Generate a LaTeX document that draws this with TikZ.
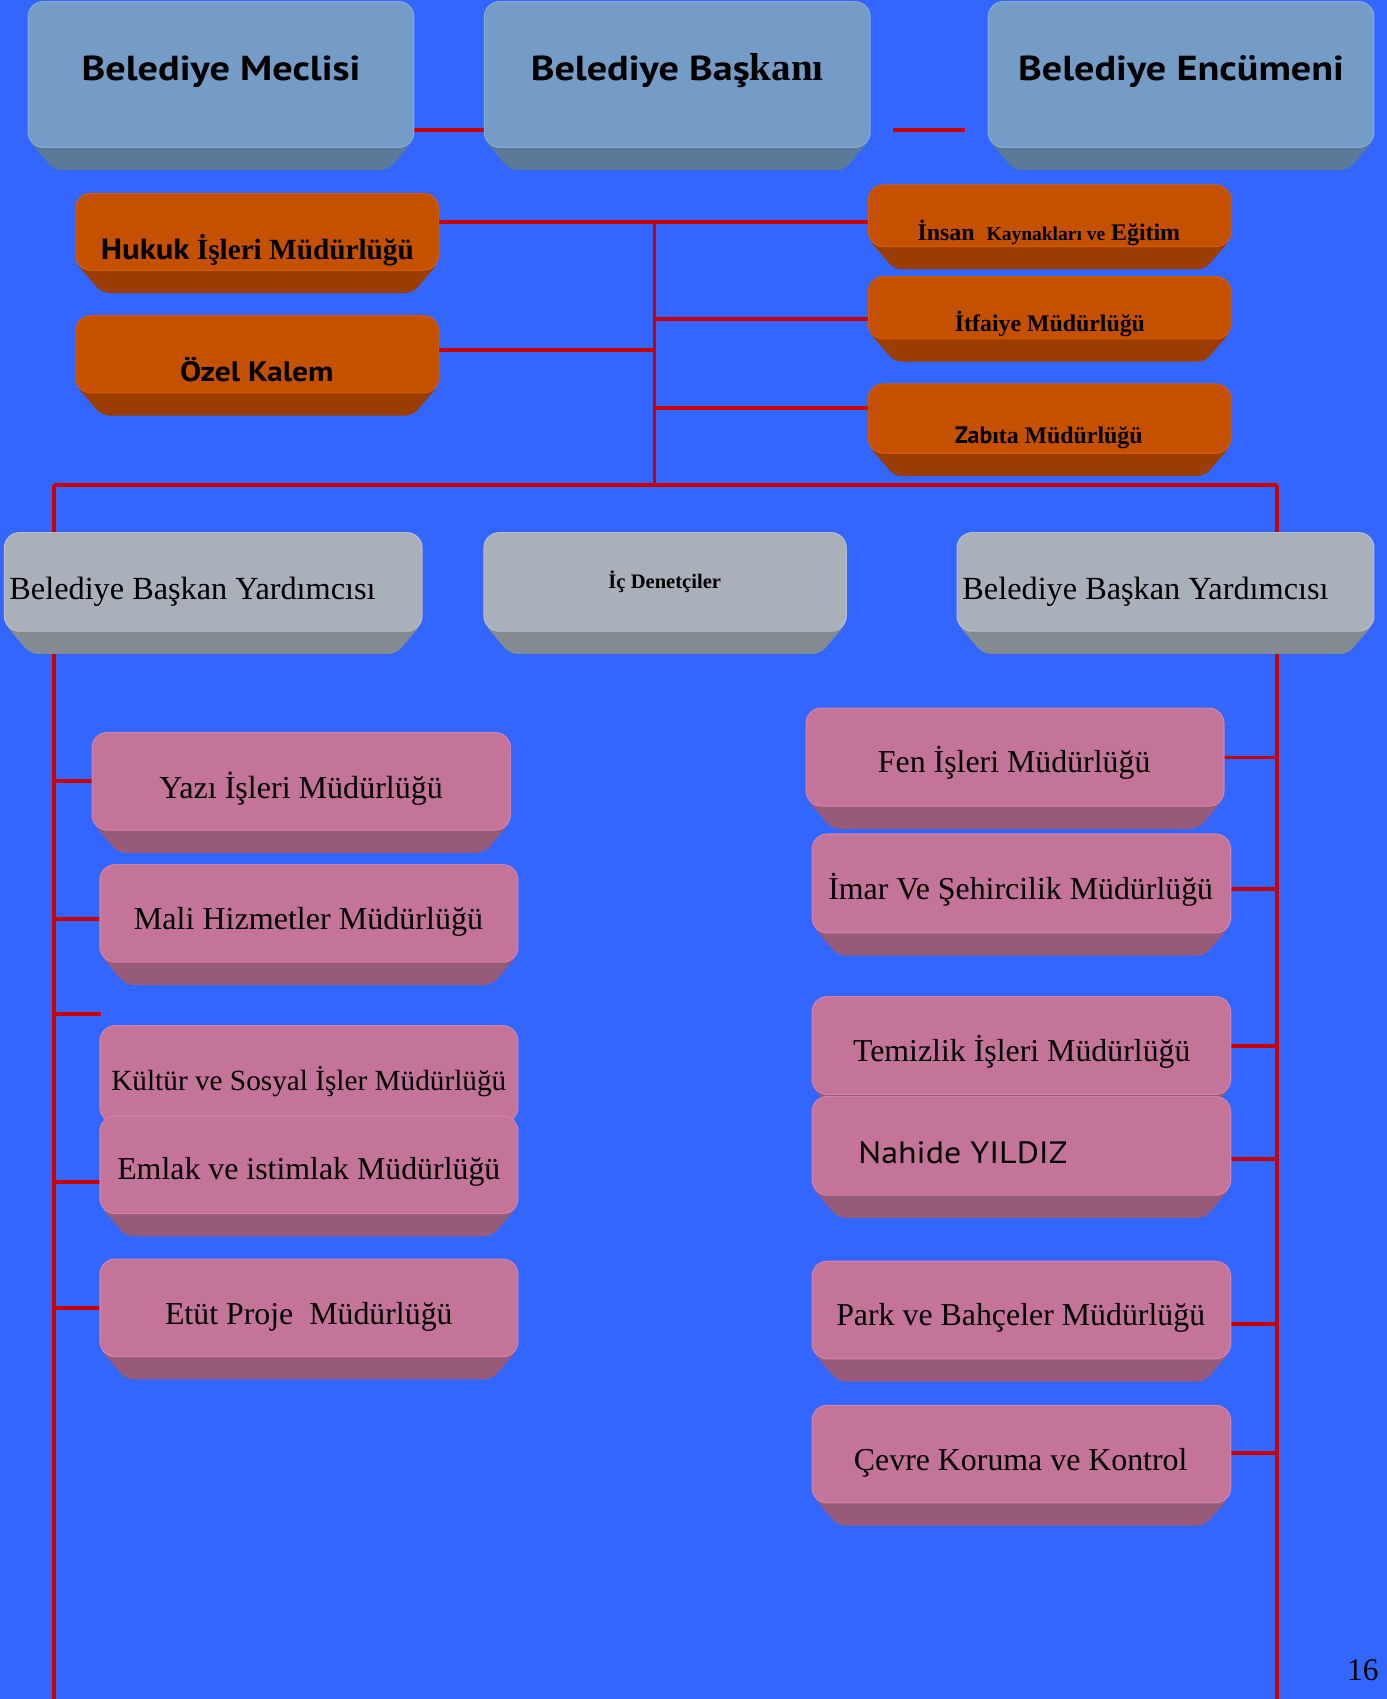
\documentclass[tikz,border=0pt]{standalone}
\usepackage{fontspec}
\setmainfont{Liberation Serif}
\newfontfamily\ptsans{PT Sans}
\newfontfamily\ptwide{PT Sans}[FakeStretch=1.16]
\newfontfamily\ptmid{PT Sans}[FakeStretch=1.12]
\newfontfamily\ptnah{PT Sans}[FakeStretch=1.1]
\usetikzlibrary{fit,backgrounds}
\definecolor{bgblue}{HTML}{3366FF}
\definecolor{linered}{HTML}{C80000}
\definecolor{blface}{HTML}{759CC6}
\definecolor{blbev}{HTML}{5B7A99}
\definecolor{bledge}{HTML}{84AAD4}
\definecolor{orface}{HTML}{C55000}
\definecolor{orbev}{HTML}{9B3D00}
\definecolor{oredge}{HTML}{D25A08}
\definecolor{grface}{HTML}{A9B0BA}
\definecolor{grbev}{HTML}{838A92}
\definecolor{gredge}{HTML}{B8BEC7}
\definecolor{pkface}{HTML}{C47498}
\definecolor{pkbev}{HTML}{975A78}
\definecolor{pkedge}{HTML}{D282A8}
\newcommand\fsz[1]{\fontsize{#1}{#1}\selectfont}
% #1 name, #2 x1, #3 y1, #4 x2, #5 y2, #6 palette
\newcommand\ubox[6]{%
  \fill[#6bev, rounded corners=7pt] (#2,#5-28) -- (#2+24,#5) -- (#4-24,#5) -- (#4,#5-28) -- cycle;
  \filldraw[fill=#6face, draw=#6edge, line width=1pt, rounded corners=14pt] (#2,#3) rectangle (#4,#5-21);
  \node[fit={(#2,#3)(#4,#5)}, inner sep=0pt, outer sep=0pt] (#1) {};
}
\tikzset{
  conn/.style={draw=linered, line width=3.5pt},
  txt/.style={anchor=base, inner sep=0pt, text=black},
  ltxt/.style={anchor=base west, inner sep=0pt, text=black},
}
\begin{document}
\begin{tikzpicture}[x=1pt, y=-1pt]
\useasboundingbox (0,0) rectangle (1280,1568);
\begin{scope}[on background layer]
  \fill[bgblue] (0,0) rectangle (1280,1568);
\end{scope}

% top row
\ubox{mec}{26}{1.5}{382}{157}{bl}
\node[txt, font=\ptwide\bfseries\fsz{32}] (mec-t) at (204,74) {Belediye Meclisi};
\ubox{bas}{447}{1.5}{803}{157}{bl}
\node[txt, font=\fsz{32}] (bas-t) at (625,74) {{\ptwide\bfseries Belediye Baş}{\bfseries\fsz{36}kanı}};
\ubox{enc}{912}{1.5}{1268}{157}{bl}
\node[txt, font=\ptwide\bfseries\fsz{32}] (enc-t) at (1090,74) {Belediye Encümeni};

% orange
\ubox{huk}{70}{178.4}{404.8}{270.5}{or}
\node[txt, font=\fsz{27}] (huk-t) at (237.5,239.3) {{\ptmid\bfseries Hukuk} {\bfseries İşleri Müdürlüğü}};
\ubox{oze}{70}{291.3}{404.8}{383.6}{or}
\node[txt, font=\ptmid\bfseries\fsz{26}] (oze-t) at (237,352.2) {Özel Kalem};
\ubox{ins}{801.4}{170.7}{1136}{248.6}{or}
\node[txt, font=\bfseries\fsz{22}] (ins-t) at (968,222) {İnsan\ \ {\fsz{18}Kaynakları ve} Eğitim};
\ubox{itf}{801.4}{255.3}{1136}{333.8}{or}
\node[txt, font=\bfseries\fsz{22}] (itf-t) at (969,306) {İtfaiye Müdürlüğü};
\ubox{zab}{801.4}{354.4}{1136}{439.3}{or}
\node[txt, font=\fsz{22}] (zab-t) at (968,409) {{\ptsans\bfseries Zab}{\bfseries ıta Müdürlüğü}};

% grey
\ubox{bby1}{4}{491.6}{389.5}{603.5}{gr}
\node[ltxt, font=\fsz{29.8}] (bby1-t) at (8.5,553) {Belediye Başkan Yardımcısı};
\ubox{ic}{446.7}{491.6}{781}{603.5}{gr}
\node[txt, font=\bfseries\fsz{19}] (ic-t) at (613.5,543.5) {İç Denetçiler};
\ubox{bby2}{883.3}{491.6}{1268}{603.5}{gr}
\node[ltxt, font=\fsz{29.8}] (bby2-t) at (888,553) {Belediye Başkan Yardımcısı};

% pink left
\ubox{yaz}{85}{676}{471}{787}{pk}
\node[txt, font=\fsz{29.6}] (yaz-t) at (278,736.6) {Yazı İşleri Müdürlüğü};
\ubox{mal}{92.3}{798}{478}{909}{pk}
\node[txt, font=\fsz{29.6}] (mal-t) at (284.7,857.8) {Mali Hizmetler Müdürlüğü};
\ubox{kul}{92.3}{946.6}{478}{1057}{pk}
\node[txt, font=\fsz{27}] (kul-t) at (285,1006) {Kültür ve Sosyal İşler Müdürlüğü};
\ubox{eml}{92.3}{1030}{478}{1141}{pk}
\node[txt, font=\fsz{29.4}] (eml-t) at (285,1089) {Emlak ve istimlak Müdürlüğü};
\ubox{etu}{92.3}{1162}{478}{1273}{pk}
\node[txt, font=\fsz{29.4}] (etu-t) at (285,1222.5) {Etüt Proje\ \ Müdürlüğü};

% pink right
\ubox{fen}{744}{653.5}{1129.6}{765}{pk}
\node[txt, font=\fsz{29.4}] (fen-t) at (936,713) {Fen İşleri Müdürlüğü};
\ubox{ima}{749.5}{769.7}{1135.8}{882}{pk}
\node[txt, font=\fsz{29.4}] (ima-t) at (942,829.8) {İmar Ve Şehircilik Müdürlüğü};
\ubox{tem}{749.5}{919.8}{1135.8}{1031}{pk}
\node[txt, font=\fsz{29.4}] (tem-t) at (943,979.8) {Temizlik İşleri Müdürlüğü};
\ubox{nah}{749.5}{1012}{1135.8}{1124}{pk}
\node[ltxt, font=\ptnah\fsz{28.5}] (nah-t) at (792,1074) {Nahide YILDIZ};
\ubox{par}{749.5}{1164}{1135.8}{1275}{pk}
\node[txt, font=\fsz{29.4}] (par-t) at (942,1223.5) {Park ve Bahçeler Müdürlüğü};
\ubox{cev}{749.5}{1297}{1135.8}{1408}{pk}
\node[txt, font=\fsz{29.4}] (cev-t) at (942,1357.5) {Çevre Koruma ve Kontrol};

\node[ltxt, font=\fsz{29}] (page) at (1243,1551) {16};

% connectors
\coordinate (f1) at (824,120);
\coordinate (f2) at (890.6,120);
\coordinate (sptop) at (604,204.6);
\coordinate (busM) at (604,447.6);
\coordinate (busL) at (49.5,447.6);
\coordinate (busR) at (1178.5,447.6);
\coordinate (leftend) at (49.5,1568);
\coordinate (rightend) at (1178.5,1568);
\coordinate (stub) at (93,936);
\begin{scope}[on background layer]
  \draw[conn] (mec.east |- 0,120) -- (bas.west |- 0,120);
  \draw[conn] (f1) -- (f2);
  \draw[conn] (huk.east |- sptop) -- (ins.west |- sptop);
  \draw[conn] (sptop) -- (busM);
  \draw[conn] (oze.east |- 0,323) -- (sptop |- 0,323);
  \draw[conn] (sptop |- 0,294.7) -- (itf.west |- 0,294.7);
  \draw[conn] (sptop |- 0,376.8) -- (zab.west |- 0,376.8);
  \draw[conn] (busL) -- (busR);
  \draw[conn] (busL) -- (leftend);
  \draw[conn] (busR) -- (rightend);
  \draw[conn] (busL |- 0,720.6) -- (yaz.west |- 0,720.6);
  \draw[conn] (busL |- 0,848.4) -- (mal.west |- 0,848.4);
  \draw[conn] (busL |- stub) -- (stub);
  \draw[conn] (busL |- 0,1091) -- (eml.west |- 0,1091);
  \draw[conn] (busL |- 0,1207) -- (etu.west |- 0,1207);
  \draw[conn] (fen.east |- 0,699) -- (busR |- 0,699);
  \draw[conn] (ima.east |- 0,820.7) -- (busR |- 0,820.7);
  \draw[conn] (tem.east |- 0,965) -- (busR |- 0,965);
  \draw[conn] (nah.east |- 0,1069.6) -- (busR |- 0,1069.6);
  \draw[conn] (par.east |- 0,1222) -- (busR |- 0,1222);
  \draw[conn] (cev.east |- 0,1341) -- (busR |- 0,1341);
\end{scope}
\end{tikzpicture}
\end{document}
